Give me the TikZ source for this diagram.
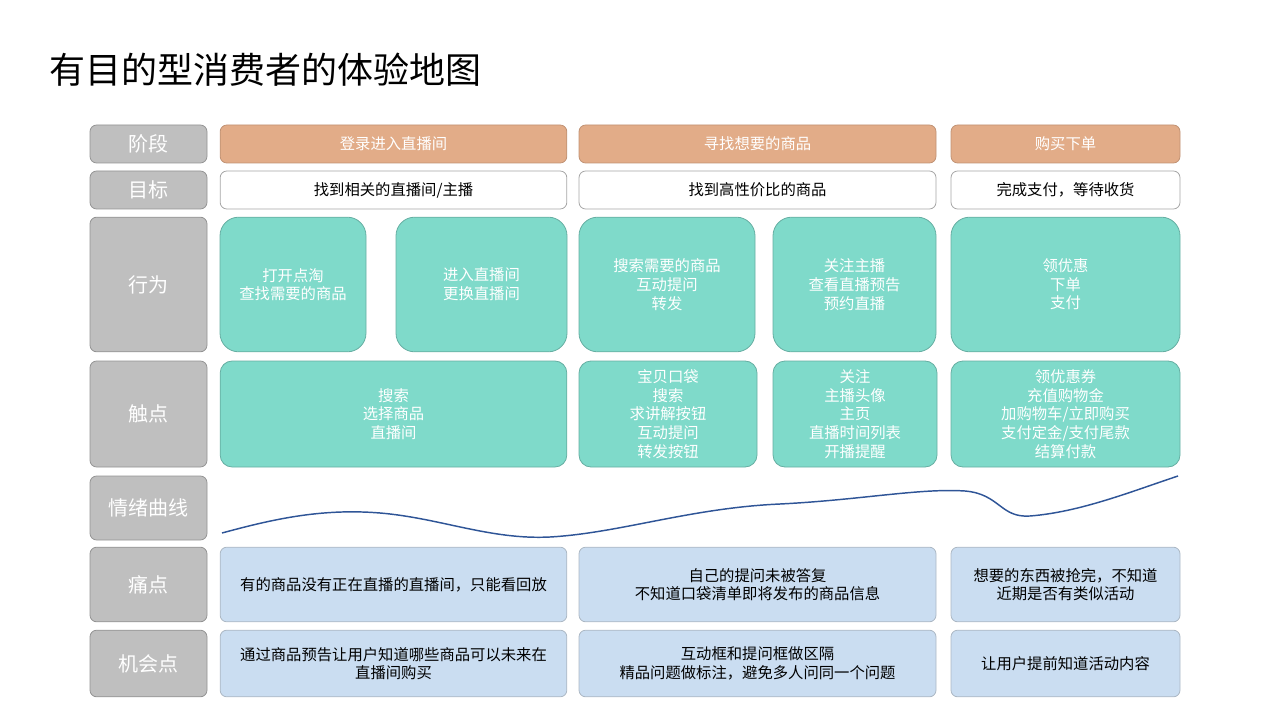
\documentclass[tikz,border=0pt]{standalone}
\usepackage{fontspec}
\setmainfont{Noto Sans CJK SC}
\begin{document}
\begin{tikzpicture}[x=0.75pt,y=-0.75pt,
  box/.style={draw=#1!70!black!60,line width=0.6pt,rounded corners=5pt,align=center,font=\fontsize{11.5}{14}\selectfont},
  lab/.style={box=gray,fill=gray!50,draw=gray!85,text=white,font=\fontsize{15}{18}\selectfont},
  stg/.style={box=orange,fill=orangeC,draw=orangeC!85!black,text=white},
  goal/.style={box=gray,fill=white,draw=gray!70},
  act/.style={box=teal,fill=tealC,draw=tealC!80!black,text=white},
  pain/.style={box=blue,fill=blueC,draw=blueC!60!gray}]
\definecolor{orangeC}{HTML}{E2AC88}
\definecolor{tealC}{HTML}{7FDACA}
\definecolor{blueC}{HTML}{CADDF1}
\useasboundingbox (0,0) rectangle (1280,720);
\newcommand{\bx}[6]{\node[#1,minimum width=#4-#2,minimum height=#5-#3] (#6) at ({(#2+#4)/2},{(#3+#5)/2}) {};}
\node[anchor=west,font=\fontsize{27}{30}\selectfont] (title) at (45,70) {有目的型消费者的体验地图};
% labels
\node[lab,minimum width=87.75pt,minimum height=28.5pt] (l1) at (148.5,144) {阶段};
\node[lab,minimum width=87.75pt,minimum height=28.5pt] (l2) at (148.5,190) {目标};
\node[lab,minimum width=87.75pt,minimum height=101pt] (l3) at (148.5,284.5) {行为};
\node[lab,minimum width=87.75pt,minimum height=79.5pt] (l4) at (148.5,414) {触点};
\node[lab,minimum width=87.75pt,minimum height=48pt] (l5) at (148.5,508) {情绪曲线};
\node[lab,minimum width=87.75pt,minimum height=56pt] (l6) at (148.5,584.5) {痛点};
\node[lab,minimum width=87.75pt,minimum height=50pt] (l7) at (148.5,663.5) {机会点};
% stage
\node[stg,minimum width=260pt,minimum height=28.5pt] (s1) at (393.5,144) {登录进入直播间};
\node[stg,minimum width=267.75pt,minimum height=28.5pt] (s2) at (757.5,144) {寻找想要的商品};
\node[stg,minimum width=171.75pt,minimum height=28.5pt] (s3) at (1065.5,144) {购买下单};
% goal
\node[goal,minimum width=260pt,minimum height=28.5pt] (g1) at (393.5,190) {找到相关的直播间/主播};
\node[goal,minimum width=267.75pt,minimum height=28.5pt] (g2) at (757.5,190) {找到高性价比的商品};
\node[goal,minimum width=171.75pt,minimum height=28.5pt] (g3) at (1065.5,190) {完成支付，等待收货};
% actions
\node[act,rounded corners=14pt,minimum width=109.5pt,minimum height=101pt] (a1) at (293,284.5) {打开点淘\\查找需要的商品};
\node[act,rounded corners=14pt,minimum width=128.25pt,minimum height=101pt] (a2) at (481.5,284.5) {进入直播间\\更换直播间};
\node[act,rounded corners=14pt,minimum width=132pt,minimum height=101pt] (a3) at (667,284.5) {搜索需要的商品\\互动提问\\转发};
\node[act,rounded corners=14pt,minimum width=122.25pt,minimum height=101pt] (a4) at (854.5,284.5) {关注主播\\查看直播预告\\预约直播};
\node[act,rounded corners=14pt,minimum width=171.75pt,minimum height=101pt] (a5) at (1065.5,284.5) {领优惠\\下单\\支付};
% touchpoints
\node[act,rounded corners=9pt,minimum width=260pt,minimum height=79.5pt] (t1) at (393.5,414) {搜索\\选择商品\\直播间};
\node[act,rounded corners=9pt,minimum width=133.5pt,minimum height=79.5pt] (t2) at (668,414) {宝贝口袋\\搜索\\求讲解按钮\\互动提问\\转发按钮};
\node[act,rounded corners=9pt,minimum width=123pt,minimum height=79.5pt] (t3) at (855,414) {关注\\主播头像\\主页\\直播时间列表\\开播提醒};
\node[act,rounded corners=9pt,minimum width=171.75pt,minimum height=79.5pt] (t4) at (1065.5,414) {领优惠券\\充值购物金\\加购物车/立即购买\\支付定金/支付尾款\\结算付款};
% pain
\node[pain,minimum width=260pt,minimum height=56pt] (p1) at (393.5,584.5) {有的商品没有正在直播的直播间，只能看回放};
\node[pain,minimum width=267.75pt,minimum height=56pt] (p2) at (757.5,584.5) {自己的提问未被答复\\不知道口袋清单即将发布的商品信息};
\node[pain,minimum width=171.75pt,minimum height=56pt] (p3) at (1065.5,584.5) {想要的东西被抢完，不知道\\近期是否有类似活动};
% opportunity
\node[pain,minimum width=260pt,minimum height=50pt] (o1) at (393.5,663.5) {通过商品预告让用户知道哪些商品可以未来在\\直播间购买};
\node[pain,minimum width=267.75pt,minimum height=50pt] (o2) at (757.5,663.5) {互动框和提问框做区隔\\精品问题做标注，避免多人问同一个问题};
\node[pain,minimum width=171.75pt,minimum height=50pt] (o3) at (1065.5,663.5) {让用户提前知道活动内容};
% curve
\draw[color={rgb,255:red,47;green,85;blue,151},line width=1.1pt]
 (222,533) .. controls (270,520) and (320,508) .. (380,513)
 .. controls (440,518) and (490,540) .. (550,537)
 .. controls (620,533) and (690,508) .. (780,504)
 .. controls (860,500) and (920,488) .. (965,491)
 .. controls (1000,494) and (1000,518) .. (1030,516)
 .. controls (1080,512) and (1130,492) .. (1178,476);
\end{tikzpicture}
\end{document}
